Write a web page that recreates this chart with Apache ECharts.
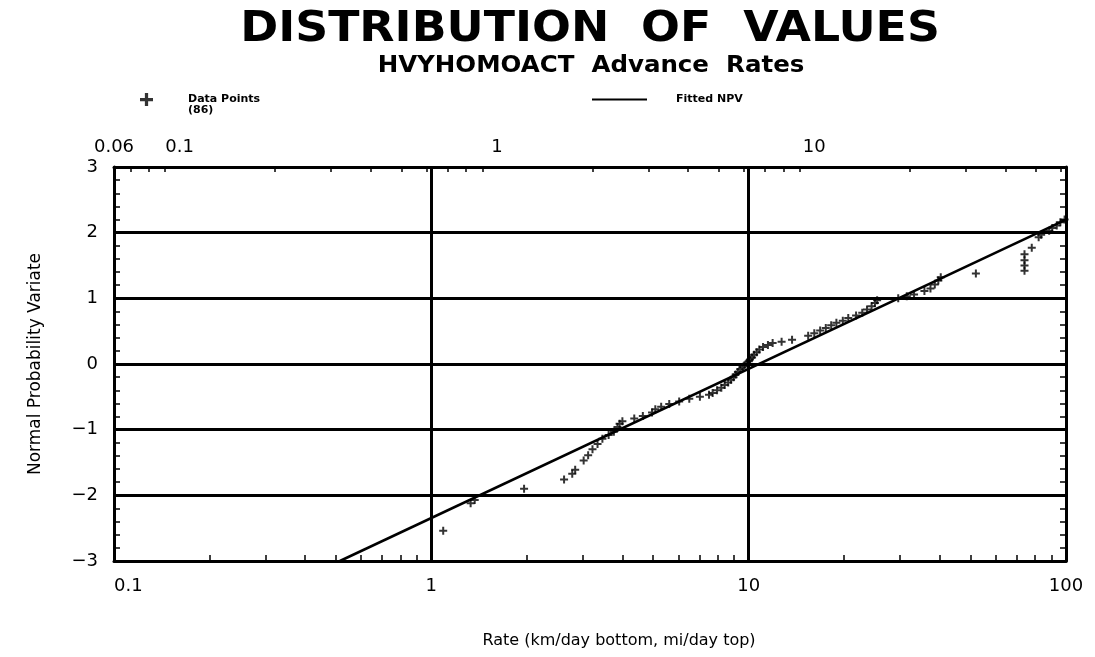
<!DOCTYPE html>
<html>
<head>
<meta charset="utf-8">
<script src="https://cdn.jsdelivr.net/npm/echarts@6/dist/echarts.min.js"></script>
<style>
  html, body { margin: 0; padding: 0; background: #ffffff; }
  #chart { width: 1095px; height: 657px; }
</style>
</head>
<body>
<div id="chart"></div>
<script>
// Observed advance rates (km/day), ranked, with their normal probability variates
const rateKm = [
  1.09, 1.33, 1.37, 1.96, 2.62, 2.78, 2.84, 3.02, 3.12, 3.22,
  3.34, 3.46, 3.62, 3.76, 3.86, 3.92, 4.00, 4.36, 4.64, 4.96,
  5.08, 5.30, 5.62, 6.04, 6.50, 7.02, 7.50, 7.70, 7.95, 8.20,
  8.40, 8.62, 8.80, 8.96, 9.10, 9.25, 9.40, 9.55, 9.70, 9.85,
  10.0, 10.1, 10.25, 10.4, 10.6, 10.8, 11.1, 11.5, 11.9, 12.7,
  13.7, 15.4, 16.1, 16.8, 17.5, 18.2, 18.9, 19.8, 20.6, 21.8,
  22.8, 23.6, 24.4, 25.0, 25.4, 29.6, 31.5, 33.2, 35.8, 37.4,
  38.6, 39.6, 40.3, 52.0, 74.0, 74.0, 74.0, 74.0, 78.0, 82.0,
  83.5, 88.5, 90.5, 93.5, 96.0, 99.0
];
const npv = [
  -2.54, -2.12, -2.07, -1.90, -1.76, -1.67, -1.61, -1.47, -1.39, -1.30,
  -1.22, -1.14, -1.08, -1.03, -0.96, -0.91, -0.87, -0.83, -0.79, -0.74,
  -0.69, -0.65, -0.61, -0.57, -0.53, -0.50, -0.47, -0.44, -0.40, -0.36,
  -0.32, -0.28, -0.24, -0.20, -0.16, -0.12, -0.08, -0.05, -0.02, 0.01,
  0.04, 0.07, 0.10, 0.14, 0.18, 0.22, 0.26, 0.29, 0.32, 0.34,
  0.37, 0.43, 0.47, 0.51, 0.55, 0.59, 0.63, 0.66, 0.70, 0.74,
  0.78, 0.83, 0.88, 0.93, 0.97, 1.00, 1.03, 1.06, 1.11, 1.15,
  1.21, 1.27, 1.32, 1.38, 1.42, 1.50, 1.58, 1.67, 1.77, 1.93,
  1.97, 2.03, 2.07, 2.11, 2.16, 2.20
];

// Fitted normal probability line (end points)
const fitKm = [0.515, 100];
const fitNpv = [-3, 2.2];

// Axis ranges and tick positions
const kmRange = [0.1, 100];
const npvRange = [-3, 3];
const kmMinorTicks = [
  0.2, 0.3, 0.4, 0.5, 0.6, 0.7, 0.8, 0.9,
  2, 3, 4, 5, 6, 7, 8, 9,
  20, 30, 40, 50, 60, 70, 80, 90
];
const miTickLabels = [0.1, 1, 10];
const miMinorTicks = [
  0.07, 0.08, 0.09, 0.2, 0.3, 0.4, 0.5, 0.6, 0.7, 0.8, 0.9,
  2, 3, 4, 5, 6, 7, 8, 9, 20, 30, 40, 50, 60
];

const KM_PER_MI = 1.609344;
const miRange = [kmRange[0] / KM_PER_MI, kmRange[1] / KM_PER_MI];

const FONT = 'DejaVu Sans';
const INK = '#000000';

const points = rateKm.map((x, i) => [x, npv[i]]);
const fitLine = fitKm.map((x, i) => [x, fitNpv[i]]);

const plusPath = 'path://M3,0h2v3h3v2h-3v3h-2v-3h-3v-2h3z';

const fmtNum = v => {
  const n = Number(Number(v).toPrecision(3));
  return String(n).replace('-', '\u2212');
};

const chart = echarts.init(document.getElementById('chart'));
chart.setOption({
  backgroundColor: '#ffffff',
  animation: false,
  graphic: [
    {
      type: 'text', x: 590, y: 9, scaleX: 1.09,
      style: {
        text: 'DISTRIBUTION  OF  VALUES', fill: INK,
        font: 'bold 42px "DejaVu Sans"', align: 'center', verticalAlign: 'top'
      }
    },
    {
      type: 'text', x: 591, y: 55, scaleX: 1.065,
      style: {
        text: 'HVYHOMOACT  Advance  Rates', fill: INK,
        font: 'bold 23px "DejaVu Sans"', align: 'center', verticalAlign: 'top'
      }
    }
  ],
  legend: [
    {
      // empty first line keeps the marker level with the label's first line
      data: [{ name: 'Data Points', icon: plusPath }],
      left: 135, top: 78, padding: 5,
      itemWidth: 13, itemHeight: 13,
      formatter: '\nData Points\n(86)',
      textStyle: {
        fontFamily: FONT, fontWeight: 'bold', fontSize: 11, color: INK,
        lineHeight: 11, padding: [0, 0, 0, 30]
      }
    },
    {
      data: [{ name: 'Fitted NPV', icon: 'rect' }],
      left: 587, top: 89, padding: 5,
      itemWidth: 55, itemHeight: 2,
      textStyle: {
        fontFamily: FONT, fontWeight: 'bold', fontSize: 11, color: INK,
        padding: [0, 0, 0, 24]
      }
    }
  ],
  grid: { left: 114, right: 29, top: 167, bottom: 96 },
  xAxis: [
    {
      // km/day, bottom
      type: 'log', logBase: 10, position: 'bottom',
      min: kmRange[0], max: kmRange[1],
      name: 'Rate (km/day bottom, mi/day top)',
      nameLocation: 'middle', nameGap: 72,
      nameTextStyle: { fontFamily: FONT, fontSize: 16, color: INK, padding: [0, 0, 0, 58] },
      axisLine: { show: true, onZero: false, lineStyle: { color: INK, width: 3 } },
      axisTick: { show: false },
      axisLabel: {
        fontFamily: FONT, fontSize: 18, color: INK, margin: 16,
        alignMinLabel: 'left', formatter: fmtNum
      },
      splitLine: { show: true, lineStyle: { color: INK, width: 3 } }
    },
    {
      // mi/day, top
      type: 'log', logBase: 10, position: 'top',
      min: miRange[0], max: miRange[1],
      axisLine: { show: true, onZero: false, lineStyle: { color: INK, width: 3 } },
      axisTick: {
        show: true, inside: true, length: 5,
        customValues: miMinorTicks,
        lineStyle: { color: INK, width: 1.5 }
      },
      axisLabel: {
        fontFamily: FONT, fontSize: 18, color: INK, margin: 11,
        customValues: [miRange[0]].concat(miTickLabels),
        formatter: v => (v < 0.09 ? Number(v).toFixed(2) : fmtNum(v))
      },
      splitLine: { show: false }
    },
    {
      // minor ticks along the bottom edge
      type: 'log', logBase: 10, position: 'bottom',
      min: kmRange[0], max: kmRange[1],
      axisLine: { show: false, onZero: false },
      axisTick: {
        show: true, inside: true, length: 6,
        customValues: kmMinorTicks,
        lineStyle: { color: INK, width: 1.5 }
      },
      axisLabel: { show: false },
      splitLine: { show: false }
    }
  ],
  yAxis: [
    {
      type: 'value', position: 'left',
      min: npvRange[0], max: npvRange[1], interval: 1,
      name: 'Normal Probability Variate',
      nameLocation: 'middle', nameGap: 70, nameRotate: 90,
      nameTextStyle: { fontFamily: FONT, fontSize: 17, color: INK },
      axisLine: { show: true, onZero: false, lineStyle: { color: INK, width: 3 } },
      axisTick: { show: false, inside: true },
      minorTick: { show: true, splitNumber: 5, length: 6, lineStyle: { color: INK, width: 1.5 } },
      axisLabel: { fontFamily: FONT, fontSize: 18, color: INK, margin: 16, formatter: fmtNum },
      splitLine: { show: true, lineStyle: { color: INK, width: 3 } }
    },
    {
      type: 'value', position: 'right',
      min: npvRange[0], max: npvRange[1], interval: 1,
      axisLine: { show: true, onZero: false, lineStyle: { color: INK, width: 3 } },
      axisTick: { show: false, inside: true },
      minorTick: { show: true, splitNumber: 5, length: 6, lineStyle: { color: INK, width: 1.5 } },
      axisLabel: { show: false },
      splitLine: { show: false }
    }
  ],
  series: [
    {
      name: 'Data Points', type: 'scatter',
      xAxisIndex: 0, yAxisIndex: 0,
      data: points,
      symbol: plusPath, symbolSize: 8,
      itemStyle: { color: INK },
      z: 5
    },
    {
      name: 'Fitted NPV', type: 'line',
      xAxisIndex: 0, yAxisIndex: 0,
      data: fitLine,
      showSymbol: false,
      lineStyle: { color: INK, width: 2.5 },
      itemStyle: { color: INK },
      z: 4
    }
  ]
});
</script>
</body>
</html>
